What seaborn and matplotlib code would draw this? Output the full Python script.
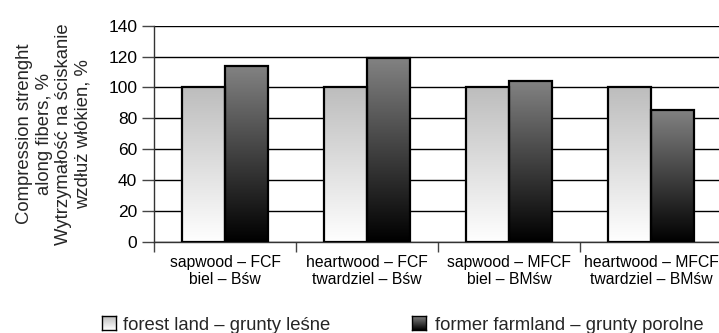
import numpy as np
import pandas as pd
import matplotlib
matplotlib.use("Agg")
import matplotlib.pyplot as plt
import seaborn as sns
from matplotlib.colors import LinearSegmentedColormap

# ---- data ----
categories = [
    "sapwood – FCF\nbiel – Bśw",
    "heartwood – FCF\ntwardziel – Bśw",
    "sapwood – MFCF\nbiel – BMśw",
    "heartwood – MFCF\ntwardziel – BMśw",
]
series_names = ["forest land – grunty leśne", "former farmland – grunty porolne"]
forest_land = [100, 100, 100, 100]
former_farmland = [114, 119, 104, 85.5]
y_ticks = [0, 20, 40, 60, 80, 100, 120, 140]

df = pd.DataFrame({
    "category": categories * 2,
    "site": [series_names[0]] * 4 + [series_names[1]] * 4,
    "value": forest_land + former_farmland,
})

sns.set_theme(style="white")
plt.rcParams["font.family"] = ["Liberation Sans", "DejaVu Sans"]

W, H = 719, 333
fig = plt.figure(figsize=(W / 100, H / 100), dpi=100)
ax = fig.add_axes([154 / W, 1 - 241.7 / H, (722 - 154) / W, 216 / H])

sns.barplot(data=df, x="category", y="value", hue="site", order=categories,
            hue_order=series_names, width=0.6, gap=0, ax=ax, legend=False,
            errorbar=None, palette=["#dddddd", "#444444"], zorder=3)

# vertical gradient fills: light series fades to white, dark series to black
cmap_light = LinearSegmentedColormap.from_list("light", ["#ffffff", "#bdbdbd"])
cmap_dark = LinearSegmentedColormap.from_list("dark", ["#000000", "#828282"])
grad = np.linspace(0, 1, 256).reshape(-1, 1)

for container, cmap in zip(ax.containers, [cmap_light, cmap_dark]):
    for bar in container:
        x0, y0 = bar.get_x(), bar.get_y()
        w, h = bar.get_width(), bar.get_height()
        ax.imshow(grad, cmap=cmap, origin="lower", aspect="auto",
                  extent=[x0, x0 + w, y0, y0 + h], zorder=3.5,
                  interpolation="bilinear")
        bar.set_facecolor("none")
        bar.set_edgecolor("black")
        bar.set_linewidth(1.6)
        bar.set_zorder(4)

ax.set_xlim(-0.5, 3.5)
ax.set_ylim(0, 140)
ax.set_yticks(y_ticks)
ax.set_yticklabels([str(t) for t in y_ticks], fontsize=12.5)
ax.yaxis.grid(True, color="black", linewidth=1.0, zorder=1)
ax.set_axisbelow(True)

ax.set_xticks(range(len(categories)))
ax.set_xticklabels(categories, fontsize=11.3, linespacing=1.18)
ax.set_xticks([i - 0.5 for i in range(len(categories) + 1)], minor=True)
ax.tick_params(axis="x", which="major", length=0, pad=9.5, labelcolor="black")
ax.tick_params(axis="x", which="minor", length=7, width=1, color="#444444",
               direction="out", bottom=True)
ax.tick_params(axis="y", length=9, width=1, color="#444444", direction="out",
               left=True, pad=3, labelcolor="black")
ax.set_xlabel("")
ax.set_ylabel("")

for side in ["top", "right"]:
    ax.spines[side].set_visible(False)
for side in ["left", "bottom"]:
    ax.spines[side].set_color("#333333")
    ax.spines[side].set_linewidth(1)

fig.text(54 / W, 1 - 134 / H,
         "Compression strenght\nalong fibers, %\nWytrzymałość na ściskanie\nwzdłuż włókien, %",
         rotation=90, ha="center", va="center", multialignment="center",
         fontsize=13.3, linespacing=1.2)

# legend: gradient swatches followed by their labels
swatches = [(102, cmap_light, 122.5, series_names[0]),
            (412, cmap_dark, 435, series_names[1])]
for sx, cmap, tx, label in swatches:
    sax = fig.add_axes([sx / W, 1 - 330 / H, 14 / W, 14 / H])
    sax.imshow(grad, cmap=cmap, origin="lower", aspect="auto",
               extent=[0, 1, 0, 1], interpolation="bilinear")
    sax.set_xticks([])
    sax.set_yticks([])
    for sp in sax.spines.values():
        sp.set_visible(True)
        sp.set_color("black")
        sp.set_linewidth(1.0)
    fig.text(tx / W, 1 - 329.5 / H, label, ha="left", va="baseline",
             fontsize=13.3)

fig.savefig("out.png", dpi=100)
